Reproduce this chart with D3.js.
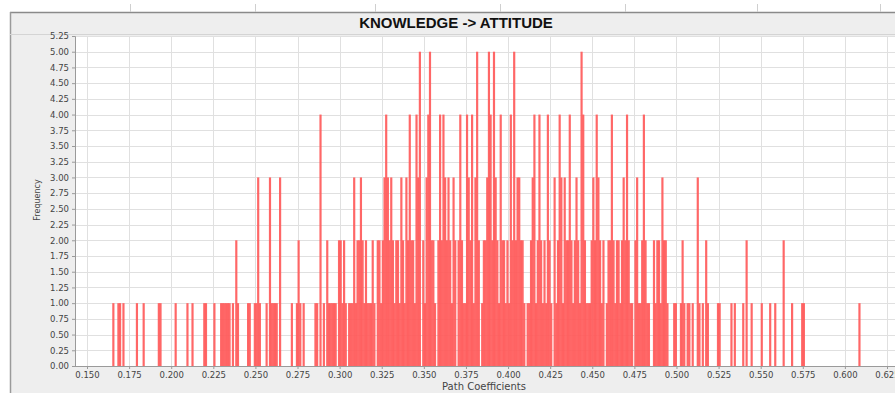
<!DOCTYPE html>
<html><head><meta charset="utf-8">
<script src="https://cdn.jsdelivr.net/npm/d3@7/dist/d3.min.js"></script>
<style>html,body{margin:0;padding:0;background:#fff;}svg{display:block;}</style>
</head><body>
<script>
const chartTitle = "KNOWLEDGE -> ATTITUDE";
const xLabel = "Path Coefficients";
const yLabel = "Frequency";
const binWidth = 0.001;
const xTicks = [0.150,0.175,0.200,0.225,0.250,0.275,0.300,0.325,0.350,0.375,0.400,0.425,0.450,0.475,0.500,0.525,0.550,0.575,0.600,0.625];
const yTicks = [0,0.25,0.5,0.75,1,1.25,1.5,1.75,2,2.25,2.5,2.75,3,3.25,3.5,3.75,4,4.25,4.5,4.75,5,5.25];
// bin start values (path coefficient) and bootstrap frequencies
const coefficients = [
0.165,0.168,0.169,0.171,0.179,0.183,0.192,0.193,0.202,0.209,0.212,0.219,0.220,0.225,0.229,0.230,0.231,0.232,0.233,0.234,0.236,0.238,0.239,0.245,0.246,0.249,0.250,0.251,0.252,0.256,0.258,0.259,0.260,0.261,0.262,0.264,0.271,0.274,0.275,0.276,0.278,0.285,0.286,0.288,
0.290,0.292,0.293,0.294,0.295,0.296,0.297,0.299,0.300,0.301,0.302,0.303,0.305,0.306,0.307,0.308,0.309,0.310,0.311,0.312,0.313,0.314,0.315,0.316,0.317,0.318,0.319,0.320,
0.322,0.323,0.324,0.325,0.326,0.327,0.328,0.329,0.330,0.331,0.332,0.333,0.334,0.335,0.336,0.337,0.338,0.339,0.340,0.341,0.342,0.343,0.344,0.345,0.346,0.347,
0.349,0.350,0.351,0.352,0.353,0.354,0.355,0.356,0.358,0.359,0.360,0.361,0.362,0.363,0.364,0.365,0.366,0.367,0.368,
0.370,0.371,0.372,0.373,0.374,0.375,0.376,0.377,0.378,0.379,0.380,0.381,0.382,0.384,0.385,0.386,0.387,0.388,0.389,0.390,0.391,0.392,0.393,0.394,0.395,0.396,0.397,0.398,0.399,
0.400,0.401,0.402,0.403,0.404,0.405,0.406,0.407,0.408,0.409,0.411,0.412,0.413,0.414,0.415,0.416,0.417,0.418,0.419,0.420,0.421,0.422,0.423,0.424,0.425,0.427,0.428,0.429,
0.430,0.431,0.432,0.433,0.434,0.435,0.436,0.437,0.438,0.439,0.440,0.441,0.442,0.443,0.444,0.445,0.446,0.447,0.448,0.449,0.450,0.451,0.452,0.453,0.454,0.455,0.456,0.458,0.459,
0.460,0.461,0.462,0.463,0.464,0.465,0.466,0.467,0.468,0.469,0.470,0.471,0.472,0.473,0.475,0.476,0.477,0.478,0.479,0.480,0.481,0.482,0.483,0.486,0.487,0.488,0.489,
0.490,0.491,0.492,0.493,0.494,0.498,0.499,0.502,0.503,0.504,0.506,0.507,0.509,0.512,0.513,0.515,0.517,0.518,0.524,0.525,0.532,0.534,0.539,0.541,0.544,0.550,0.555,0.558,0.563,0.568,0.574,0.575,0.608];
const frequencies = [
1,1,1,1,1,1,1,1,1,1,1,1,1,1,1,1,1,1,1,1,1,2,1,1,1,1,1,3,1,1,3,1,1,1,1,3,1,1,2,1,1,1,1,4,
1,2,1,1,1,1,1,2,2,1,2,1,1,1,1,3,1,2,2,3,2,1,2,1,1,1,2,1,
2,2,1,2,3,4,3,2,3,2,1,2,2,1,3,2,1,3,2,4,2,2,1,4,3,5,
2,1,3,4,5,2,2,1,2,4,2,4,3,2,3,2,1,3,2,
2,4,2,1,1,4,3,2,4,1,3,5,2,1,2,2,3,5,4,2,5,3,2,1,4,2,2,1,2,
1,4,2,5,2,3,3,2,2,1,1,1,2,3,4,1,2,4,2,1,2,1,4,2,1,3,1,2,
4,3,1,3,2,2,4,2,1,2,3,2,1,5,4,2,1,1,1,2,3,2,4,3,2,1,2,1,2,
2,4,2,1,2,2,1,2,3,2,4,2,1,1,2,3,1,1,2,4,2,1,1,2,1,2,2,
1,3,2,2,1,1,1,1,2,1,1,1,1,3,1,1,2,1,1,1,1,1,1,2,1,1,1,1,2,1,1,1,1];

const W = 895, H = 393;
const plot = {left: 75, right: 895, top: 36, bottom: 366};
const svg = d3.select("body").append("svg").attr("width", W).attr("height", H);

// window background
svg.append("rect").attr("x",0).attr("y",0).attr("width",W).attr("height",H).attr("fill","#ffffff");
svg.append("rect").attr("x",10).attr("y",13).attr("width",W-10).attr("height",H-13).attr("fill","#eeeeee");
svg.append("line").attr("x1",10).attr("x2",W).attr("y1",12.5).attr("y2",12.5).attr("stroke","#8a8a8a").attr("stroke-width",1.5);
svg.append("line").attr("x1",10.5).attr("x2",10.5).attr("y1",12).attr("y2",H).attr("stroke","#9a9a9a").attr("stroke-width",1.5);
svg.append("line").attr("x1",10).attr("x2",W).attr("y1",34.5).attr("y2",34.5).attr("stroke","#d4d4d4");
const topMarks = [130, 255, 375, 500, 625, 757, 880];
svg.selectAll("line.tm").data(topMarks).enter().append("line")
  .attr("x1",d=>d+0.5).attr("x2",d=>d+0.5).attr("y1",4).attr("y2",12).attr("stroke","#cfcfcf");

// title
svg.append("text").attr("x",456).attr("y",28).attr("text-anchor","middle")
  .attr("font-family","Liberation Sans, Arial, sans-serif").attr("font-weight","bold").attr("font-size",15)
  .attr("fill","#111").text(chartTitle);

// plot area
svg.append("rect").attr("x",plot.left).attr("y",plot.top).attr("width",plot.right-plot.left).attr("height",plot.bottom-plot.top).attr("fill","#ffffff");

const x = d3.scaleLinear().domain([0.150, 0.625]).range([87, 887]);
const y = d3.scaleLinear().domain([0, 5.25]).range([plot.bottom, plot.top]);

const g = svg.append("g");
// gridlines
g.selectAll("line.vg").data(xTicks).enter().append("line")
  .attr("x1",d=>Math.round(x(d))+0.5).attr("x2",d=>Math.round(x(d))+0.5)
  .attr("y1",plot.top).attr("y2",plot.bottom).attr("stroke","#e0e0e0").attr("stroke-width",1);
g.selectAll("line.hg").data(yTicks.slice(1)).enter().append("line")
  .attr("x1",plot.left).attr("x2",plot.right)
  .attr("y1",d=>Math.round(y(d))+0.5).attr("y2",d=>Math.round(y(d))+0.5).attr("stroke","#e0e0e0").attr("stroke-width",1);

// bars
const bars = coefficients.map((c,i)=>({c, f: frequencies[i]}));
g.selectAll("rect.bar").data(bars).enter().append("rect")
  .attr("x", d=>x(d.c))
  .attr("width", d=>x(d.c+binWidth)-x(d.c)+0.5)
  .attr("y", d=>y(d.f))
  .attr("height", d=>y(0)-y(d.f))
  .attr("fill","#ff5a5a").attr("fill-opacity",0.92);

// axes
const yAxis = d3.axisLeft(y).tickValues(yTicks).tickFormat(d3.format(".2f")).tickSize(3);
const yg = svg.append("g").attr("transform",`translate(${plot.left},0)`).call(yAxis);
const xAxis = d3.axisBottom(x).tickValues(xTicks).tickFormat(d3.format(".3f")).tickSize(3);
const xg = svg.append("g").attr("transform",`translate(0,${plot.bottom})`).call(xAxis);
[yg,xg].forEach(a=>{
  a.select(".domain").attr("stroke","#9a9a9a");
  a.selectAll(".tick line").attr("stroke","#9a9a9a");
  a.selectAll(".tick text").attr("font-family","DejaVu Sans, sans-serif").attr("font-size",8.5).attr("fill","#444");
});
yg.selectAll(".tick text").attr("x",-6);
xg.selectAll(".tick text").attr("y",6);
svg.append("line").attr("x1",plot.left).attr("x2",plot.right).attr("y1",plot.bottom+0.5).attr("y2",plot.bottom+0.5).attr("stroke","#9a9a9a");

svg.append("text").attr("x",484).attr("y",390).attr("text-anchor","middle")
  .attr("font-family","DejaVu Sans, sans-serif").attr("font-size",10).attr("fill","#444").text(xLabel);
svg.append("text").attr("transform","translate(40,200) rotate(-90)").attr("text-anchor","middle")
  .attr("font-family","DejaVu Sans, sans-serif").attr("font-size",8).attr("fill","#444").text(yLabel);
</script>
</body></html>
